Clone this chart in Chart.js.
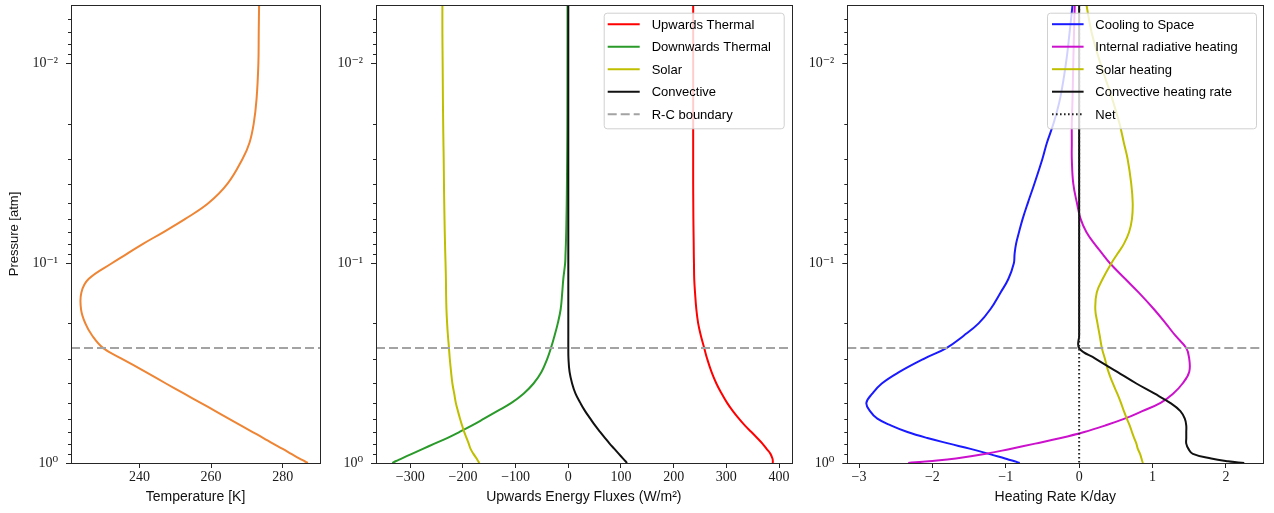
<!DOCTYPE html>
<html><head><meta charset="utf-8">
<script src="https://cdn.jsdelivr.net/npm/chart.js@4.4.1/dist/chart.umd.min.js"></script>
<style>
html,body{margin:0;padding:0;background:#fff;}
#wrap{position:relative;width:1274px;height:513px;overflow:hidden;background:#fff;}
canvas{position:absolute;top:0;}
</style></head><body>
<div id="wrap">
<canvas id="c1" width="330" height="513" style="left:0px"></canvas>
<canvas id="c2" width="470" height="513" style="left:330px"></canvas>
<canvas id="c3" width="474" height="513" style="left:800px"></canvas>
</div>
<script>
// ---------------- data ----------------
const pressure = [0.0051,0.007,0.01,0.015,0.02,0.025,0.03,0.04,0.05,0.06,0.07,0.08,0.09,0.1,0.12,0.14,0.17,0.2,0.23,0.266,0.3,0.35,0.4,0.45,0.5,0.55,0.6,0.65,0.7,0.75,0.8,0.85,0.9,0.95,0.98,1.0];
const temperature = [273.4,273.3,273.2,272.7,271.9,270.7,268.8,264.6,259.3,252.8,246.6,241.0,236.4,232.3,225.8,223.8,223.7,224.9,226.8,229.9,235.0,241.7,247.4,252.5,257.1,261.2,264.9,268.4,271.6,274.6,277.3,280.0,282.4,284.7,286.1,287.0];

const fluxUpThermal = [237,237,237,237,237,237,237,237,237.2,237.4,237.7,238,238.2,238.5,239,240.5,243,246.5,251.5,258,263.4,271.8,281,291.2,301.4,312.4,323.8,335.4,347.5,358.5,368.5,376.3,383.7,387.5,388.2,388];
const fluxDownThermal = [-1.5,-1.5,-1.6,-1.7,-1.8,-2,-2.2,-2.6,-3,-3.5,-4,-4.6,-5.3,-6,-9.5,-11.5,-14.5,-20,-26,-33,-39.8,-51,-66,-85,-108,-135,-160,-183.5,-207,-230,-254,-276,-297,-316.6,-328,-334];
const fluxSolar = [-239,-239,-238.5,-238,-237.5,-237,-236.5,-236,-235.5,-235,-234.5,-234,-233.5,-233,-232.3,-232,-231.3,-230,-228.5,-226.5,-225,-222.5,-220,-216.5,-213.5,-209.5,-205.5,-201.5,-197.5,-193,-189,-185.5,-180,-174,-171,-169];
const fluxConvective = [0,0,0,0,0,0,0,0,0,0,0,0,0,0,0,0,0,0,0,0,0.3,2.4,7.2,13.7,22.8,31.9,41.8,51.1,60.7,69.8,78.4,87.5,95.9,104,108.6,111.5];

const rateCoolingSpace = [-0.09,-0.13,-0.18,-0.26,-0.35,-0.44,-0.50,-0.61,-0.70,-0.77,-0.82,-0.86,-0.88,-0.89,-0.965,-1.07,-1.21,-1.37,-1.57,-1.81,-2.11,-2.45,-2.69,-2.82,-2.90,-2.85,-2.75,-2.56,-2.34,-2.07,-1.77,-1.48,-1.23,-1.01,-0.88,-0.81];
const rateInternal = [-0.06,-0.07,-0.08,-0.09,-0.10,-0.10,-0.10,-0.08,-0.03,0.02,0.10,0.21,0.32,0.42,0.63,0.81,1.02,1.18,1.31,1.46,1.50,1.50,1.41,1.28,1.11,0.86,0.62,0.35,0.07,-0.25,-0.60,-0.94,-1.27,-1.68,-2.05,-2.33];
const rateSolar = [0.10,0.17,0.29,0.45,0.55,0.61,0.66,0.71,0.73,0.72,0.68,0.61,0.52,0.44,0.32,0.24,0.22,0.25,0.28,0.31,0.35,0.40,0.46,0.52,0.57,0.61,0.65,0.69,0.72,0.75,0.78,0.80,0.83,0.85,0.86,0.87];
const rateConvective = [0,0,0,0,0,0,0,0,0,0,0,0,0,0,0,0,0,0,0,0,0.22,0.52,0.78,1.03,1.24,1.38,1.44,1.46,1.46,1.46,1.46,1.49,1.55,1.80,2.03,2.25];
const rateNet = [0,0,0,0,0,0,0,0,0,0,0,0,0,0,0,0,0,0,0,0,0,0,0,0,0,0,0,0,0,0,0,0,0,0,0,0];

const rcBoundary = 0.266;

const pressureLimits = [0.0051, 1];
const tempLimits = [220.9, 290.4];
const fluxLimits = [-365, 424];
const rateLimits = [-3.16, 2.51];

const yMajorTicks = [0.01, 0.1, 1];
const yMajorLabels = ['10\u207B\u00B2', '10\u207B\u00B9', '10\u2070'];
const yMinorTicks = [0.006,0.007,0.008,0.009,0.02,0.03,0.04,0.05,0.06,0.07,0.08,0.09,0.2,0.3,0.4,0.5,0.6,0.7,0.8,0.9];
const tempTicks = [240, 260, 280];
const fluxTicks = [-300, -200, -100, 0, 100, 200, 300, 400];
const rateTicks = [-3, -2, -1, 0, 1, 2];

// ---------------- style ----------------
const SERIF = "'Liberation Serif','DejaVu Serif',serif";
const SANS = "'Liberation Sans','DejaVu Sans',sans-serif";
Chart.defaults.font.family = SANS;

function fmtTick(v) {
  return v < 0 ? '\u2212' + Math.abs(v) : String(v);
}
function isMajor(v) {
  return yMajorTicks.findIndex(t => Math.abs(v - t) / t < 1e-6);
}

const framePlugin = {
  id: 'frame',
  afterDatasetsDraw(chart) {
    const {ctx, chartArea: a} = chart;
    const ys = chart.scales.y;
    ctx.save();
    ctx.strokeStyle = '#262626';
    ctx.lineWidth = 1;
    ctx.setLineDash([]);
    ctx.beginPath();
    yMinorTicks.forEach(v => {
      if (v < ys.min || v > ys.max) return;
      const y = Math.round(ys.getPixelForValue(v)) + 0.5;
      ctx.moveTo(a.left - 3, y);
      ctx.lineTo(a.left, y);
    });
    ctx.stroke();
    ctx.strokeRect(Math.round(a.left) + 0.5, Math.round(a.top) + 0.5,
                   Math.round(a.right - a.left), Math.round(a.bottom - a.top));
    ctx.restore();
  }
};

const legendPlugin = {
  id: 'panelLegend',
  afterDatasetsDraw(chart, args, opts) {
    if (!opts || !opts.show) return;
    const {ctx, chartArea: a} = chart;
    const items = chart.data.datasets.filter(d => d.label);
    ctx.save();
    const w = opts.width, h = 115.6, rowH = 22.5;
    const x0 = a.right - opts.marginRight - w, y0 = a.top + 7.7;
    ctx.beginPath();
    ctx.roundRect(x0 + 0.5, y0 + 0.5, w, h, 3);
    ctx.fillStyle = 'rgba(255,255,255,0.8)';
    ctx.fill();
    ctx.strokeStyle = '#d0d0d0';
    ctx.lineWidth = 1;
    ctx.stroke();
    ctx.font = '13px ' + SANS;
    ctx.textBaseline = 'middle';
    items.forEach((d, i) => {
      const cy = y0 + 11.5 + i * rowH;
      ctx.beginPath();
      ctx.strokeStyle = d.borderColor;
      ctx.lineWidth = d.borderWidth;
      ctx.setLineDash(d.borderDash || []);
      ctx.moveTo(x0 + opts.handleStart, cy);
      ctx.lineTo(x0 + opts.handleEnd, cy);
      ctx.stroke();
      ctx.setLineDash([]);
      ctx.fillStyle = '#000';
      ctx.fillText(d.label, x0 + opts.textStart, cy + 1);
    });
    ctx.restore();
  }
};

function series(label, values, color, extra) {
  return Object.assign({
    label: label,
    data: values.map((v, i) => ({x: v, y: pressure[i]})),
    borderColor: color,
    borderWidth: 2,
    showLine: true,
    pointRadius: 0,
    pointHoverRadius: 0,
    tension: 0.4,
    fill: false
  }, extra || {});
}
function boundary(label, limits) {
  return {
    label: label,
    data: [{x: limits[0], y: rcBoundary}, {x: limits[1], y: rcBoundary}],
    borderColor: '#a3a3a3',
    borderWidth: 2,
    borderDash: [9, 4],
    showLine: true,
    pointRadius: 0,
    tension: 0,
    fill: false
  };
}

function makeChart(id, datasets, xLimits, xTicks, xTitle, yWidth, padRight, yTitle, legendOpts) {
  const n = datasets.length;
  datasets.forEach((d, i) => { d.order = n - i; });
  return new Chart(document.getElementById(id), {
    type: 'scatter',
    data: {datasets: datasets},
    plugins: [framePlugin, legendPlugin],
    options: {
      responsive: false,
      animation: false,
      devicePixelRatio: 1,
      events: [],
      layout: {padding: {top: 5, right: padRight, left: 0, bottom: 0}},
      plugins: {
        legend: {display: false},
        tooltip: {enabled: false},
        panelLegend: legendOpts || {show: false}
      },
      scales: {
        x: {
          type: 'linear',
          min: xLimits[0],
          max: xLimits[1],
          afterBuildTicks: s => { s.ticks = xTicks.map(v => ({value: v})); },
          afterFit: s => { s.height = 50; s.paddingLeft = 0; s.paddingRight = 0; },
          grid: {drawOnChartArea: false, drawTicks: true, tickLength: 5, tickColor: '#262626', tickWidth: 1},
          border: {display: false},
          ticks: {
            autoSkip: false, maxRotation: 0, padding: 1, color: '#1a1a1a',
            font: {family: SERIF, size: 14},
            callback: v => fmtTick(v)
          },
          title: {display: true, text: xTitle, color: '#111', font: {family: SANS, size: 14}, padding: {top: 0, bottom: 7}}
        },
        y: {
          type: 'logarithmic',
          min: pressureLimits[0],
          max: pressureLimits[1],
          reverse: true,
          afterBuildTicks: s => {
            s.ticks = yMinorTicks.concat(yMajorTicks).sort((a, b) => a - b).map(v => ({value: v}));
          },
          afterFit: s => { s.width = yWidth; s.paddingTop = 0; s.paddingBottom = 0; },
          grid: {
            drawOnChartArea: false, drawTicks: true, tickLength: 5, tickWidth: 1,
            tickColor: c => (c.tick && isMajor(c.tick.value) >= 0) ? '#262626' : 'rgba(0,0,0,0)'
          },
          border: {display: false},
          ticks: {
            autoSkip: false, padding: 8, color: '#1a1a1a',
            font: {family: SERIF, size: 14},
            callback: v => { const k = isMajor(v); return k >= 0 ? yMajorLabels[k] : ''; }
          },
          title: {display: !!yTitle, text: yTitle || '', color: '#111', font: {family: SANS, size: 13}, padding: {top: 7, bottom: 0}}
        }
      }
    }
  });
}

// Panel 1: temperature
makeChart('c1', [
  series(null, temperature, '#ee8535'),
  boundary(null, tempLimits)
], tempLimits, tempTicks, 'Temperature [K]', 71, 10, 'Pressure [atm]', null);

// Panel 2: fluxes
makeChart('c2', [
  series('Upwards Thermal', fluxUpThermal, '#ff0000'),
  series('Downwards Thermal', fluxDownThermal, '#2a9a2a'),
  series('Solar', fluxSolar, '#bfbf00'),
  series('Convective', fluxConvective, '#111111'),
  boundary('R-C boundary', fluxLimits)
], fluxLimits, fluxTicks, 'Upwards Energy Fluxes (W/m\u00B2)', 46, 8.3, null,
  {show: true, width: 180, marginRight: 8, handleStart: 4, handleEnd: 36, textStart: 48});

// Panel 3: heating rates
makeChart('c3', [
  series('Cooling to Space', rateCoolingSpace, '#1a1aff'),
  series('Internal radiative heating', rateInternal, '#cc11cc'),
  series('Solar heating', rateSolar, '#bfbf00'),
  series('Convective heating rate', rateConvective, '#111111'),
  series('Net', rateNet, '#222222', {borderDash: [1.6, 2.4], tension: 0}),
  boundary(null, rateLimits)
], rateLimits, rateTicks, 'Heating Rate K/day', 47.3, 10.7, null,
  {show: true, width: 209, marginRight: 7.3, handleStart: 5, handleEnd: 36.6, textStart: 48.3});
</script>
</body></html>
